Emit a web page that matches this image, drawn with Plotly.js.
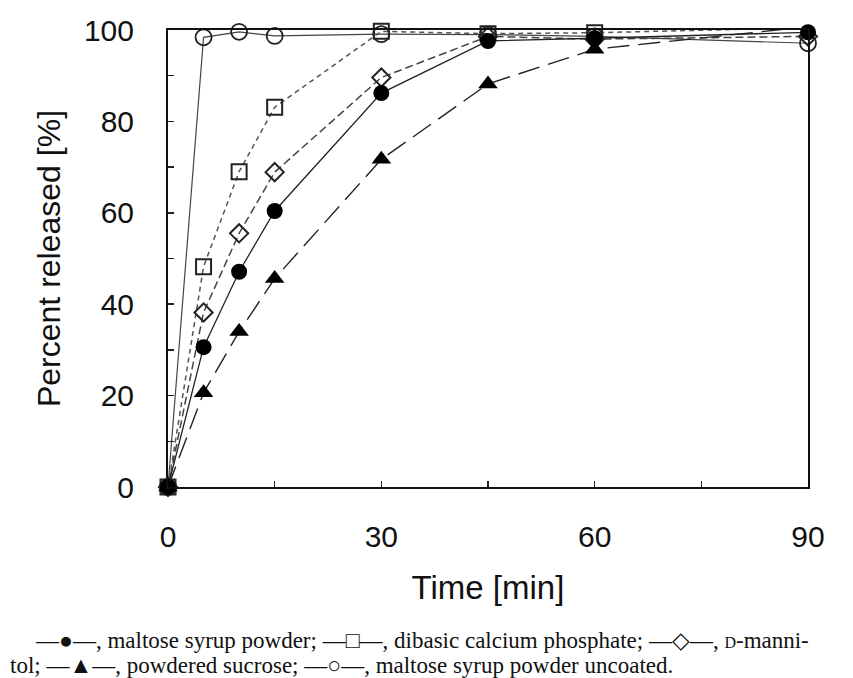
<!DOCTYPE html>
<html>
<head>
<meta charset="utf-8">
<script src="https://cdn.plot.ly/plotly-3.0.1.min.js"></script>
<style>html,body{margin:0;padding:0;background:#fff;}#chart{width:853px;height:678px;}</style>
</head>
<body>
<div id="chart"></div>
<script>
var time = [0, 5, 10, 15, 30, 45, 60, 90];
var maltoseSyrup = [0, 30.6, 47.1, 60.4, 86.2, 97.6, 98.2, 99.5];
var dibasicCaPhos = [0, 48.2, 69.0, 83.1, 99.7, 99.2, 99.4, 100.5];
var dMannitol = [0, 38.2, 55.5, 68.9, 89.6, 98.6, 98.0, 98.6];
var powderedSucrose = [0, 20.6, 34.0, 45.6, 71.7, 88.2, 95.8, 100.7];
var maltoseUncoated = [0, 98.4, 99.6, 98.7, 99.1, 99.0, 98.6, 97.1];

var seriesNames = ['maltose syrup powder', 'dibasic calcium phosphate', 'D-mannitol', 'powdered sucrose', 'maltose syrup powder uncoated'];
var xTickVals = [0, 30, 60, 90];
var yTickVals = [0, 20, 40, 60, 80, 100];

var traces = [
  {x: time, y: maltoseUncoated, name: seriesNames[4], mode: 'lines+markers',
   line: {color: '#444', width: 1.2},
   marker: {symbol: 'circle-open', size: 16, color: '#222', line: {width: 1.8, color: '#222'}}},
  {x: time, y: dibasicCaPhos, name: seriesNames[1], mode: 'lines+markers',
   line: {color: '#555', width: 1.5, dash: '5px,4px'},
   marker: {symbol: 'square-open', size: 15, color: '#222', line: {width: 2, color: '#222'}}},
  {x: time, y: dMannitol, name: seriesNames[2], mode: 'lines+markers',
   line: {color: '#444', width: 1.5, dash: '8px,4px'},
   marker: {symbol: 'diamond-open', size: 14, color: '#222', line: {width: 2, color: '#222'}}},
  {x: time, y: maltoseSyrup, name: seriesNames[0], mode: 'lines+markers',
   line: {color: '#222', width: 1.3},
   marker: {symbol: 'circle', size: 16, color: '#000'}},
  {x: time, y: powderedSucrose, name: seriesNames[3], mode: 'lines+markers',
   line: {color: '#222', width: 1.4, dash: '22px,9px'},
   marker: {symbol: 'triangle-up', size: 17, color: '#000'}}
];

var captionLine1 = '—●—, maltose syrup powder; —□—, dibasic calcium phosphate; —◇—, <span style="font-size:16px">D</span>-manni-';
var captionLine2 = 'tol; —▲—, powdered sucrose; —○—, maltose syrup powder uncoated.';

var tickFont = {family: 'Liberation Sans, Arial, sans-serif', size: 30, color: '#111'};
var titleFont = {family: 'Liberation Sans, Arial, sans-serif', size: 33, color: '#111'};
var capFont = {family: 'Liberation Serif, Times New Roman, serif', size: 23, color: '#111'};

var layout = {
  width: 853, height: 678,
  margin: {l: 168, r: 45, t: 30, b: 191},
  paper_bgcolor: '#fff', plot_bgcolor: '#fff',
  showlegend: false,
  font: tickFont,
  xaxis: {
    range: [0, 90], tickvals: xTickVals, ticktext: xTickVals.map(String),
    ticks: 'inside', ticklen: 6, tickwidth: 1.5, tickcolor: '#222',
    minor: {tickvals: [15, 45, 75], ticks: 'inside', ticklen: 6, tickwidth: 1.5, tickcolor: '#222'},
    showline: true, linecolor: '#111', linewidth: 2, mirror: true,
    showgrid: false, zeroline: false,
    ticklabelstandoff: 22,
    tickfont: tickFont,
    title: {text: 'Time [min]', font: titleFont, standoff: 24}
  },
  yaxis: {
    range: [0, 100], tickvals: yTickVals, ticktext: yTickVals.map(String),
    ticks: 'inside', ticklen: 6, tickwidth: 1.5, tickcolor: '#222',
    minor: {tickvals: [10, 30, 50, 70, 90], ticks: 'inside', ticklen: 6, tickwidth: 1.5, tickcolor: '#222'},
    showline: true, linecolor: '#111', linewidth: 2, mirror: true,
    showgrid: false, zeroline: false,
    ticklabelstandoff: 26,
    tickfont: tickFont,
    title: {text: 'Percent released [%]', font: {family: titleFont.family, size: 32, color: '#111'}, standoff: 14}
  },
  annotations: [
    {xref: 'paper', yref: 'paper', x: (33 - 168) / 640, y: (487 - 640) / 456, xanchor: 'left', yanchor: 'middle',
     text: captionLine1, showarrow: false, align: 'left', font: capFont},
    {xref: 'paper', yref: 'paper', x: (8 - 168) / 640, y: (487 - 665) / 456, xanchor: 'left', yanchor: 'middle',
     text: captionLine2, showarrow: false, align: 'left', font: capFont}
  ]
};

Plotly.newPlot('chart', traces.map(function(t){ t.cliponaxis = false; return t; }), layout, {displayModeBar: false, staticPlot: true});
</script>
</body>
</html>
